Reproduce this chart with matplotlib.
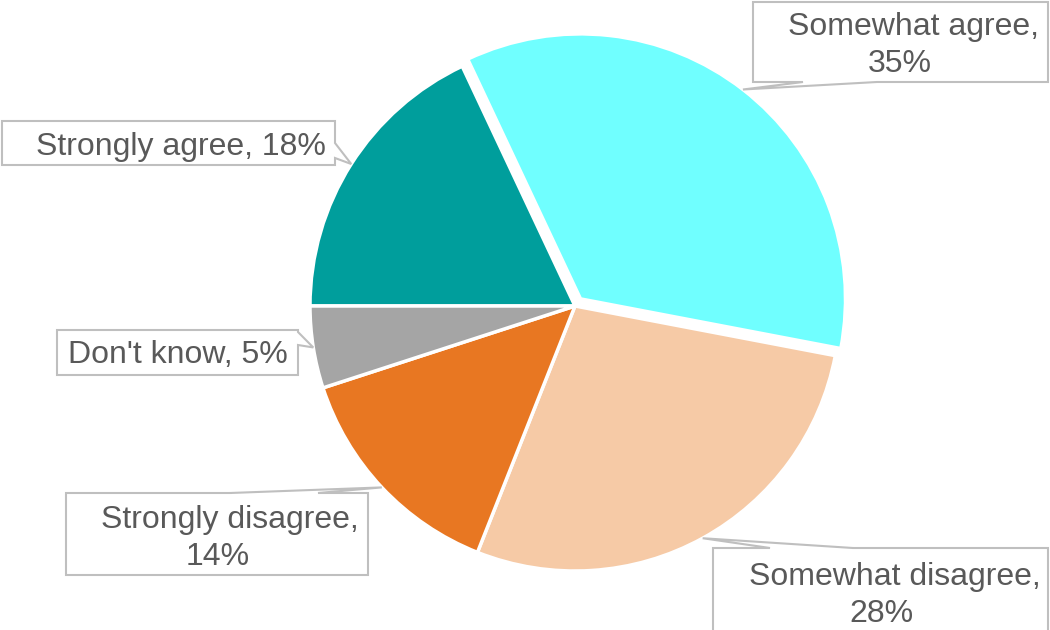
import math

import matplotlib

matplotlib.use("Agg")
import matplotlib.pyplot as plt
from matplotlib.patches import Polygon

categories = ["Strongly agree", "Somewhat agree", "Somewhat disagree", "Strongly disagree", "Don't know"]
shares = [18, 35, 28, 14, 5]
colors = ["#009E9C", "#70FFFF", "#F6CAA6", "#E87722", "#A5A5A5"]
wrap_label = [False, True, True, True, False]

W, H = 1050, 630
PIE_CENTER = (575, 306)  # pixels from top-left
PIE_RADIUS = 265
EXPLODE_PX = 9
TEXT_COLOR = "#595959"
BORDER_COLOR = "#BFBFBF"

# callout layout in pixels (top-down): box (x0, y0, x1, y1), side of pointer,
# pointer base span, and (centre x, baseline y) of each text line
callouts = [
    dict(box=(2, 121, 335, 165), side="right", base=(143, 158), lines=[(181, 155)]),
    dict(box=(753, 2, 1048, 82), side="bottom", base=(803, 877), lines=[(914, 35), (900, 72)]),
    dict(box=(713, 548, 1048, 640), side="top", base=(770, 853), lines=[(895, 585), (881, 622)]),
    dict(box=(66, 493, 368, 575), side="top", base=(230, 318), lines=[(230, 528), (218, 565)]),
    dict(box=(57, 330, 298, 375), side="right", base=(332, 345), lines=[(178, 363)]),
]


def flip(y):
    return H - y


fig = plt.figure(figsize=(10.5, 6.3), dpi=100)
ax = fig.add_axes([0, 0, 1, 1])

wedges, _ = ax.pie(
    shares,
    colors=colors,
    startangle=180,
    counterclock=False,
    center=(PIE_CENTER[0], flip(PIE_CENTER[1])),
    radius=PIE_RADIUS,
    wedgeprops=dict(edgecolor="white", linewidth=2.5),
)

# pull the "Somewhat agree" slice out a little
w = wedges[1]
mid = math.radians((w.theta1 + w.theta2) / 2)
cx, cy = w.center
w.set_center((cx + EXPLODE_PX * math.cos(mid), cy + EXPLODE_PX * math.sin(mid)))

for wedge, cat, share, wrap, co in zip(wedges, categories, shares, wrap_label, callouts):
    mid = math.radians((wedge.theta1 + wedge.theta2) / 2)
    cx, cy = wedge.center
    tip = (cx + wedge.r * math.cos(mid), cy + wedge.r * math.sin(mid))

    x0, y0, x1, y1 = co["box"]
    a, b = co["base"]
    if co["side"] == "right":
        pts = [(x0, y0), (x1, y0), (x1, a), None, (x1, b), (x1, y1), (x0, y1)]
    elif co["side"] == "bottom":
        pts = [(x0, y0), (x1, y0), (x1, y1), (b, y1), None, (a, y1), (x0, y1)]
    else:
        pts = [(x0, y0), (a, y0), None, (b, y0), (x1, y0), (x1, y1), (x0, y1)]
    verts = [tip if p is None else (p[0], flip(p[1])) for p in pts]
    ax.add_patch(Polygon(verts, closed=True, facecolor="white",
                         edgecolor=BORDER_COLOR, linewidth=1.5, zorder=3))

    parts = [f"{cat},", f"{share}%"] if wrap else [f"{cat}, {share}%"]
    for part, (tx, ty) in zip(parts, co["lines"]):
        ax.text(tx, flip(ty), part, ha="center", va="baseline",
                fontsize=23, color=TEXT_COLOR, family="Liberation Sans", zorder=4)

ax.set_xlim(0, W)
ax.set_ylim(0, H)
ax.set_aspect("equal")
ax.axis("off")

fig.savefig("out.png", dpi=100)
plt.close(fig)
